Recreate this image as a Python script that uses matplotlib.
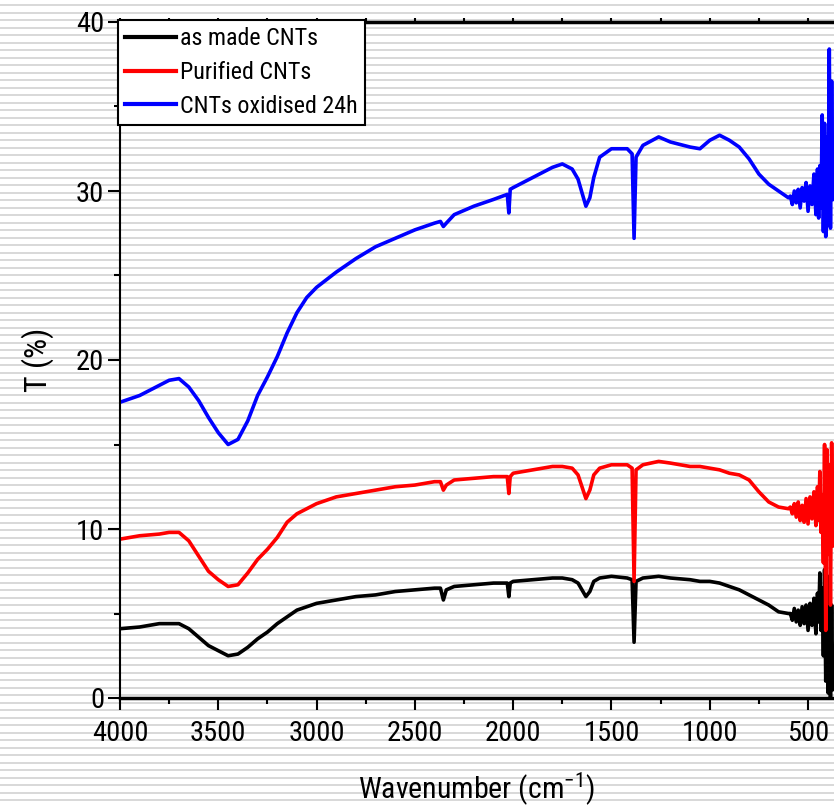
import matplotlib

matplotlib.use("Agg")

import matplotlib.pyplot as plt
from matplotlib.ticker import MultipleLocator

# FTIR transmittance spectra of the three CNT samples
wn_main = [4000, 3900, 3800, 3750, 3700, 3650, 3600, 3550, 3500, 3450, 3400, 3350, 3300, 3250,
           3200, 3150, 3100, 3050, 3000, 2900, 2800, 2700, 2600, 2500, 2400, 2370, 2355, 2340,
           2300, 2200, 2100, 2030, 2022, 2015, 2000, 1900, 1800, 1750, 1700, 1670, 1650, 1630,
           1610, 1590, 1560, 1500, 1420, 1395, 1385, 1375, 1340, 1260, 1200, 1100, 1050, 1000,
           950, 900, 850, 800, 750, 700, 650, 600]
wn_tail = [590, 580, 570, 560, 550, 540, 530, 520, 510, 500, 490, 480, 470, 460,
           452, 446, 440, 434, 428, 422, 416, 410, 404, 398, 392, 386, 380, 374]

as_made_main = [4.1, 4.2, 4.4, 4.4, 4.4, 4.1, 3.6, 3.1, 2.8, 2.5, 2.6, 3.0, 3.5, 3.9,
                4.4, 4.8, 5.2, 5.4, 5.6, 5.8, 6.0, 6.1, 6.3, 6.4, 6.5, 6.5, 5.8, 6.4,
                6.6, 6.7, 6.8, 6.8, 6.0, 6.8, 6.9, 7.0, 7.1, 7.1, 7.0, 6.8, 6.4, 6.0,
                6.3, 6.9, 7.1, 7.2, 7.1, 7.0, 3.3, 6.9, 7.1, 7.2, 7.1, 7.0, 6.9, 6.9,
                6.8, 6.6, 6.4, 6.1, 5.8, 5.5, 5.1, 5.0]
as_made_tail = [5.0, 4.6, 5.3, 4.5, 5.2, 4.3, 5.4, 4.4, 5.5, 4.0, 5.6, 4.3, 5.9, 3.8,
                6.2, 4.5, 7.4, 4.0, 6.5, 2.5, 7.6, 1.0, 6.8, 0.3, 7.2, 0.0, 5.5, 0.5]

purified_main = [9.4, 9.6, 9.7, 9.8, 9.8, 9.3, 8.4, 7.5, 7.0, 6.6, 6.7, 7.4, 8.2, 8.8,
                 9.5, 10.4, 10.9, 11.2, 11.5, 11.9, 12.1, 12.3, 12.5, 12.6, 12.8, 12.8, 12.3, 12.6,
                 12.9, 13.0, 13.1, 13.1, 12.1, 13.1, 13.3, 13.5, 13.7, 13.7, 13.6, 13.2, 12.5, 11.8,
                 12.3, 13.2, 13.6, 13.8, 13.8, 13.6, 6.9, 13.5, 13.8, 14.0, 13.9, 13.7, 13.7, 13.6,
                 13.5, 13.3, 13.2, 12.9, 12.2, 11.6, 11.3, 11.2]
purified_tail = [11.3, 10.9, 11.5, 10.7, 11.6, 10.5, 11.4, 10.4, 11.8, 10.3, 11.9, 10.6, 12.2, 10.2,
                 12.5, 10.5, 13.4, 9.8, 12.0, 8.0, 15.0, 4.0, 14.7, 8.5, 13.8, 5.5, 15.1, 9.0]

oxidised_main = [17.5, 17.9, 18.5, 18.8, 18.9, 18.4, 17.6, 16.6, 15.7, 15.0, 15.3, 16.4, 17.9, 19.0,
                 20.2, 21.6, 22.8, 23.7, 24.3, 25.2, 26.0, 26.7, 27.2, 27.7, 28.1, 28.2, 27.9, 28.1,
                 28.6, 29.1, 29.5, 29.8, 28.7, 30.1, 30.2, 30.8, 31.4, 31.6, 31.3, 30.7, 29.9, 29.1,
                 29.6, 30.8, 32.0, 32.5, 32.5, 32.2, 27.2, 32.0, 32.7, 33.2, 32.9, 32.6, 32.5, 33.0,
                 33.3, 33.0, 32.6, 31.9, 31.0, 30.4, 30.0, 29.6]
oxidised_tail = [29.7, 29.2, 30.0, 29.3, 30.1, 29.0, 30.2, 29.4, 30.5, 28.8, 30.3, 29.2, 31.0, 28.6,
                 31.3, 28.4, 31.5, 29.0, 34.5, 27.6, 34.0, 27.3, 33.2, 28.0, 38.4, 27.8, 36.5, 29.5]

labels = ["as made CNTs", "Purified CNTs", "CNTs oxidised 24h"]
colors = ["black", "red", "blue"]

plt.rcParams["font.family"] = ["Roboto Condensed", "Liberation Sans", "DejaVu Sans"]

W, H = 834, 807
fig = plt.figure(figsize=(W / 100, H / 100), dpi=100)

# striped page background
bg = fig.add_axes([0, 0, 1, 1], zorder=0)
bg.set_xlim(0, W)
bg.set_ylim(H, 0)
bg.axis("off")
y = 4.0
while y < H:
    bg.axhspan(y, y + 2.4, color="#d9d9d9", lw=0)
    y += 7.5

ax = fig.add_axes([120 / W, (H - 698) / H, (W - 120) / W, (698 - 22) / H], zorder=1)
ax.set_facecolor("none")

wn = wn_main + wn_tail
series = [as_made_main + as_made_tail, purified_main + purified_tail, oxidised_main + oxidised_tail]
for vals, lab, c in zip(series, labels, colors):
    ax.plot(wn, vals, color=c, lw=2.6, label=lab)

ax.set_xlim(4000, 368)
ax.set_ylim(0, 40)
ax.xaxis.set_major_locator(MultipleLocator(500))
ax.xaxis.set_minor_locator(MultipleLocator(250))
ax.yaxis.set_major_locator(MultipleLocator(10))
ax.yaxis.set_minor_locator(MultipleLocator(5))
ax.tick_params(which="major", direction="out", length=8.5, width=1.5, labelsize=20.5)
ax.tick_params(which="minor", direction="out", length=4.5, width=1.5)
ax.tick_params(axis="x", which="major", pad=7)
ax.tick_params(axis="y", which="major", pad=3)
ax.tick_params(axis="x", which="both", top=True, labeltop=False)
for t in ax.xaxis.get_major_ticks() + ax.xaxis.get_minor_ticks():
    t.tick2line.set_markersize(3)
ax.spines["right"].set_visible(False)
ax.spines["left"].set_linewidth(1.5)
ax.spines["bottom"].set_linewidth(2.5)
ax.spines["top"].set_linewidth(2.5)

ax.set_xlabel("Wavenumber (cm$^{\\mathregular{-1}}$)", fontsize=21.5, labelpad=17)
ax.set_ylabel("T (%)", fontsize=23, labelpad=16)

leg = ax.legend(loc="upper left", bbox_to_anchor=(-0.003, 1.003), fontsize=17.3,
                frameon=True, fancybox=False, framealpha=1, edgecolor="black",
                handlelength=2.1, handletextpad=0.2, labelspacing=0.45,
                borderpad=0.3, borderaxespad=0)
leg.get_frame().set_linewidth(1.5)
for line in leg.get_lines():
    line.set_linewidth(3)

fig.savefig("out.png", dpi=100)
